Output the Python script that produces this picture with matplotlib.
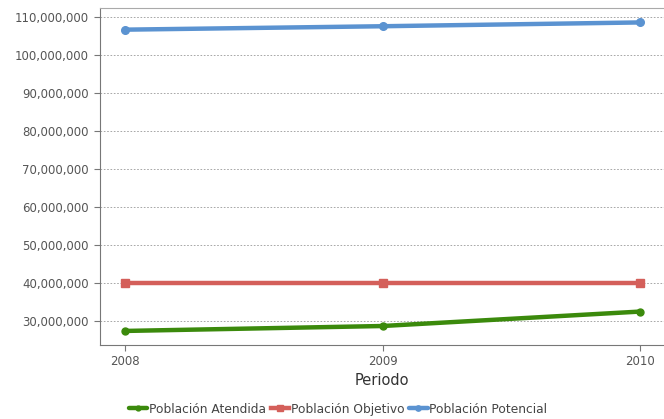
import matplotlib
matplotlib.use("Agg")
from matplotlib import pyplot
from matplotlib.ticker import FuncFormatter

years = [2008, 2009, 2010]
atendida = [27400000, 28700000, 32500000]
objetivo = [39900000, 39900000, 39900000]
potencial = [106700000, 107600000, 108600000]
yticks = [30000000, 40000000, 50000000, 60000000, 70000000,
          80000000, 90000000, 100000000, 110000000]

fig = pyplot.figure(figsize=(6.64, 4.19), dpi=100)
ax = fig.add_axes([0.1506, 0.1766, 0.8494, 0.8043])

ax.plot(years, atendida, color='#3b8a0c', lw=3.2, marker='o', ms=5,
        label='Población Atendida', solid_capstyle='round')
ax.plot(years, objetivo, color='#d45f5a', lw=3.2, marker='s', ms=5.5,
        label='Población Objetivo')
ax.plot(years, potencial, color='#5b93d1', lw=3.2, marker='o', ms=5.5,
        label='Población Potencial', solid_capstyle='round')

ax.set_xlim(2007.903, 2010.093)
ax.set_ylim(23700000, 112400000)
ax.set_xticks(years)
ax.set_yticks(yticks)
ax.yaxis.set_major_formatter(FuncFormatter(lambda v, p: '{:,.0f}'.format(v)))

ax.grid(True, axis='y', linestyle=(0, (2, 2)), color='#999999', lw=0.6)
ax.set_axisbelow(True)
ax.spines['right'].set_visible(False)
for s in ['left', 'bottom']:
    ax.spines[s].set_color('#777777')
ax.spines['top'].set_color('#aaaaaa')
ax.tick_params(axis='both', colors='#777777', labelcolor='#555555',
               labelsize=8.5, length=4)
ax.tick_params(axis='y', pad=4)

ax.set_xlabel('Periodo', fontsize=10.5, color='#333333', labelpad=3)

leg = ax.legend(loc='center', bbox_to_anchor=(0.422, -0.19), ncol=3,
                frameon=False, fontsize=8.8, handlelength=1.5, handletextpad=0.15,
                columnspacing=0.4, markerscale=0.7)
for t in leg.get_texts():
    t.set_color('#444444')

pyplot.savefig('out.png', dpi=100)
